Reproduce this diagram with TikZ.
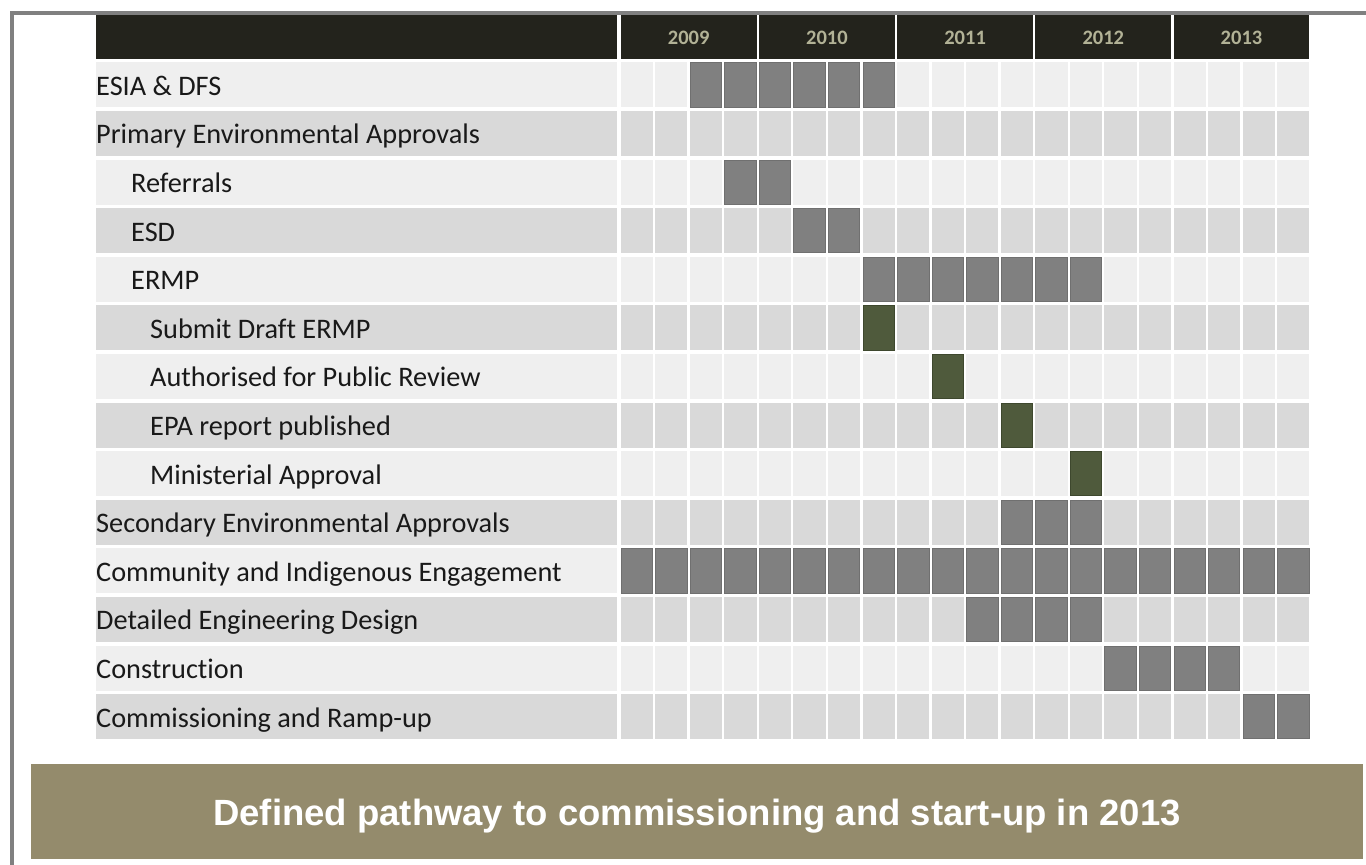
\documentclass[tikz,border=0pt]{standalone}
\usepackage{fontspec}
\setmainfont{Carlito}[Ligatures={NoCommon}]
\newfontfamily\bannerfont{Liberation Sans}
\definecolor{framec}{RGB}{128,128,128}
\definecolor{hdr}{RGB}{35,35,28}
\definecolor{yr}{RGB}{178,178,150}
\definecolor{rowA}{RGB}{239,239,239}
\definecolor{rowB}{RGB}{217,217,217}
\definecolor{barc}{RGB}{128,128,128}
\definecolor{barline}{RGB}{112,112,112}
\definecolor{msc}{RGB}{79,90,60}
\definecolor{msline}{RGB}{62,72,46}
\definecolor{bannerc}{RGB}{148,139,108}
\definecolor{txt}{RGB}{25,25,25}
\tikzset{
  lbl/.style={anchor=base west, inner sep=0pt, font=\fontsize{28.3}{31}\selectfont, text=txt},
  yrlbl/.style={anchor=base, inner sep=0pt, font=\fontsize{20.5}{22}\selectfont\bfseries, text=yr},
  bannertext/.style={anchor=base, inner sep=0pt, font=\bannerfont\fontsize{36.5}{40}\selectfont\bfseries, text=white},
  graybar/.style={fill=barc, draw=barline, line width=0.8pt},
  greenbar/.style={fill=msc, draw=msline, line width=0.8pt}
}
\begin{document}
\begin{tikzpicture}[x=1pt,y=-1pt]
\useasboundingbox (0,0) rectangle (1366,865);
\fill[white] (0,0) rectangle (1366,865);
% frame
\fill[framec] (10,11) rectangle (1366,14.7);
\fill[framec] (10,11) rectangle (14,865);
% header
\fill[hdr] (96,15) rectangle (617,59);
\foreach \yy [count=\i from 0] in {2009,2010,2011,2012,2013} {
  \fill[hdr] ({620.7+138.2*\i},15) rectangle ({620.7+138.2*\i+135.8},59);
  \node[yrlbl] (yr\yy) at ({620.7+138.2*\i+68},44.3) {\yy};
}
% rows
\foreach \r in {0,...,13} {
  \pgfmathsetmacro{\rtop}{62.3+48.6*\r}
  \pgfmathtruncatemacro{\rpar}{mod(\r,2)}
  \ifnum\rpar=0 \def\rc{rowA}\else\def\rc{rowB}\fi
  \fill[\rc] (96,\rtop) rectangle (617,\rtop+45);
  \foreach \c in {0,...,19} {
    \fill[\rc] ({620.7+34.55*\c},\rtop) rectangle ({620.7+34.55*\c+32.2},\rtop+45);
  }
}
% bars
\foreach \r/\a/\b/\s in {0/2/7/graybar, 2/3/4/graybar, 3/5/6/graybar, 4/7/13/graybar,
  5/7/7/greenbar, 6/9/9/greenbar, 7/11/11/greenbar, 8/13/13/greenbar,
  9/11/13/graybar, 10/0/19/graybar, 11/10/13/graybar, 12/14/17/graybar, 13/18/19/graybar} {
  \pgfmathsetmacro{\rtop}{62.3+48.6*\r}
  \foreach \c in {\a,...,\b} {
    \path[\s] ({620.7+34.55*\c+0.4},\rtop+0.4) rectangle ({620.7+34.55*\c+32.2-0.4},\rtop+45-0.4);
  }
}
% labels
\foreach \r/\x/\t in {0/96/ESIA \& DFS, 1/96/Primary Environmental Approvals, 2/131/Referrals,
  3/131/ESD, 4/131/ERMP, 5/150/Submit Draft ERMP, 6/150/Authorised for Public Review,
  7/150/EPA report published, 8/150/Ministerial Approval, 9/96/Secondary Environmental Approvals,
  10/96/Community and Indigenous Engagement, 11/96/Detailed Engineering Design,
  12/96/Construction, 13/96/Commissioning and Ramp-up} {
  \node[lbl] (lab\r) at (\x,{62.3+48.6*\r+33}) {\t};
}
% banner
\fill[bannerc] (31,764) rectangle (1362.7,859);
\node[bannertext] (banner) at (697,825) {Defined pathway to commissioning and start-up in 2013};
\end{tikzpicture}
\end{document}
